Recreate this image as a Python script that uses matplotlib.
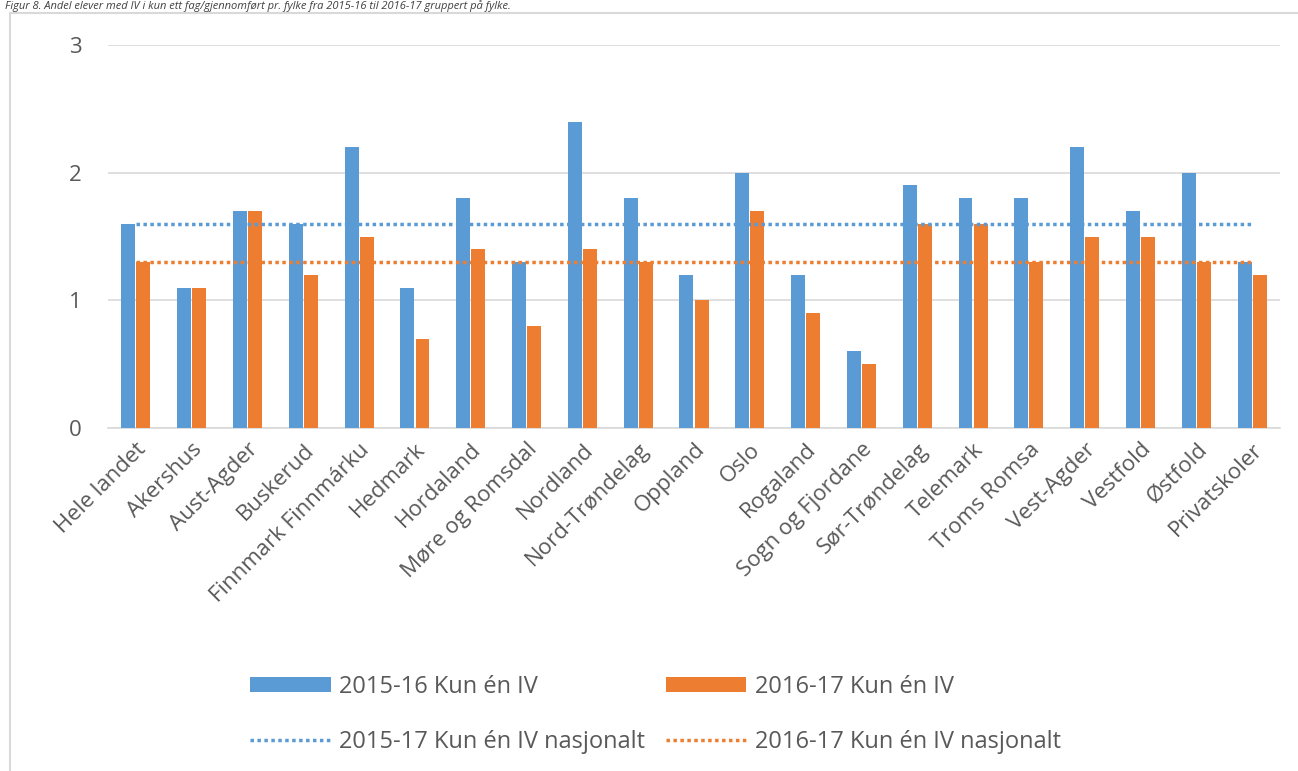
import numpy as np
import matplotlib.pyplot as plt
from matplotlib.patches import Rectangle

plt.rcParams['font.family'] = ['Open Sans', 'DejaVu Sans']

fylker = ["Hele landet", "Akershus", "Aust-Agder", "Buskerud", "Finnmark Finnmárku",
          "Hedmark", "Hordaland", "Møre og Romsdal", "Nordland", "Nord-Trøndelag",
          "Oppland", "Oslo", "Rogaland", "Sogn og Fjordane", "Sør-Trøndelag",
          "Telemark", "Troms Romsa", "Vest-Agder", "Vestfold", "Østfold", "Privatskoler"]
iv_1516 = [1.6, 1.1, 1.7, 1.6, 2.2, 1.1, 1.8, 1.3, 2.4, 1.8, 1.2,
           2.0, 1.2, 0.6, 1.9, 1.8, 1.8, 2.2, 1.7, 2.0, 1.3]
iv_1617 = [1.3, 1.1, 1.7, 1.2, 1.5, 0.7, 1.4, 0.8, 1.4, 1.3, 1.0,
           1.7, 0.9, 0.5, 1.6, 1.6, 1.3, 1.5, 1.5, 1.3, 1.2]
nasjonalt_1517 = 1.6
nasjonalt_1617 = 1.3

blue = "#5B9BD5"
orange = "#ED7D31"
grey = "#595959"

fig = plt.figure(figsize=(12.98, 7.71), dpi=100)
ax = fig.add_axes([108/1298, 1-428/771, (1280-108)/1298, (428-45)/771])

x = np.arange(len(fylker))
w = 0.25
b1 = ax.bar(x - 0.135, iv_1516, w, color=blue, label="2015-16 Kun én IV", zorder=3)
b2 = ax.bar(x + 0.135, iv_1617, w, color=orange, label="2016-17 Kun én IV", zorder=3)
l1, = ax.plot(x, [nasjonalt_1517]*len(x), color=blue, ls=(0, (1, 1)), lw=2.5,
              label="2015-17 Kun én IV nasjonalt", zorder=4)
l2, = ax.plot(x, [nasjonalt_1617]*len(x), color=orange, ls=(0, (1, 1)), lw=2.5,
              label="2016-17 Kun én IV nasjonalt", zorder=4)

ax.set_xlim(-0.5, len(fylker)-0.5)
ax.set_ylim(0, 3)
ax.set_yticks([0, 1, 2, 3])
ax.grid(axis='y', color="#D9D9D9", lw=1.2, zorder=0)
for s in ['top', 'right', 'left']:
    ax.spines[s].set_visible(False)
ax.spines['bottom'].set_color("#D9D9D9")
ax.spines['bottom'].set_linewidth(1.2)
ax.tick_params(length=0)
ax.tick_params(axis='y', pad=19, labelsize=16, labelcolor=grey)
ax.set_xticks(x)
ax.set_xticklabels(fylker, rotation=45, ha='right', rotation_mode='anchor',
                   fontsize=16, color=grey)
ax.tick_params(axis='x', pad=8)

fig.legend(handles=[b1, l1, b2, l2], loc='upper left', bbox_to_anchor=(229/1298, 1-654/771),
           ncol=2, frameon=False, fontsize=17, handlelength=3.4, handleheight=0.6,
           handletextpad=0.35, columnspacing=0.9, labelspacing=1.3, labelcolor=grey)

# chart border (cut off at right and bottom)
fig.patches.append(Rectangle((10/1298, -0.1), 1.2, 1.1-13/771, transform=fig.transFigure,
                             fill=False, ec="#D9D9D9", lw=1.5))

fig.text(5/1298, 1-0.5/771, "Figur 8. Andel elever med IV i kun ett fag/gjennomført pr. fylke fra 2015-16 til 2016-17 gruppert på fylke.",
         fontsize=8, color="#404040", va='top', ha='left', style='italic')

fig.savefig("out.png", dpi=100)
